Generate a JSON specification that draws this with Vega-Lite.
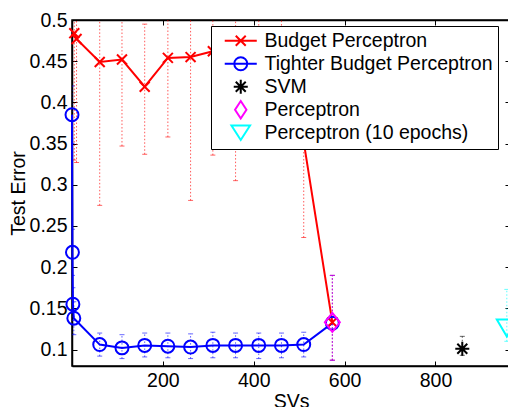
{
  "$schema": "https://vega.github.io/schema/vega-lite/v6.json",
  "width": 438,
  "height": 346,
  "autosize": {"type": "none"},
  "padding": {"left": 72, "top": 20, "right": 0, "bottom": 41},
  "background": "white",
  "config": {
    "font": "Liberation Sans",
    "view": {"stroke": "black", "strokeWidth": 1.5},
    "axis": {
      "grid": false,
      "domainColor": "black",
      "domainWidth": 1.5,
      "tickColor": "black",
      "tickWidth": 1,
      "tickSize": -5,
      "labelFont": "Liberation Sans",
      "labelFontSize": 19.5,
      "labelColor": "black",
      "labelPadding": 10,
      "labelFlush": false,
      "labelOverlap": false,
      "titleFont": "Liberation Sans",
      "titleFontSize": 19.5,
      "titleFontWeight": "normal",
      "titleColor": "black"
    }
  },
  "data": {
    "values": [
      {"series": "Budget Perceptron", "svs": 5, "err": 0.484, "lo": 0.33, "hi": 0.638},
      {"series": "Budget Perceptron", "svs": 10, "err": 0.477, "lo": 0.327, "hi": 0.627},
      {"series": "Budget Perceptron", "svs": 61, "err": 0.449, "lo": 0.275, "hi": 0.623},
      {"series": "Budget Perceptron", "svs": 110, "err": 0.452, "lo": 0.347, "hi": 0.557},
      {"series": "Budget Perceptron", "svs": 160, "err": 0.419, "lo": 0.337, "hi": 0.495},
      {"series": "Budget Perceptron", "svs": 211, "err": 0.454, "lo": 0.358, "hi": 0.55},
      {"series": "Budget Perceptron", "svs": 261, "err": 0.455, "lo": 0.281, "hi": 0.629},
      {"series": "Budget Perceptron", "svs": 310, "err": 0.462, "lo": 0.336, "hi": 0.588},
      {"series": "Budget Perceptron", "svs": 360, "err": 0.47, "lo": 0.305, "hi": 0.635},
      {"series": "Budget Perceptron", "svs": 411, "err": 0.468, "lo": 0.37, "hi": 0.566},
      {"series": "Budget Perceptron", "svs": 461, "err": 0.465, "lo": 0.37, "hi": 0.56},
      {"series": "Budget Perceptron", "svs": 510, "err": 0.352, "lo": 0.236, "hi": 0.468},
      {"series": "Budget Perceptron", "svs": 573, "err": 0.133, "lo": 0.087, "hi": 0.19},
      {"series": "Tighter Budget Perceptron", "svs": 0, "err": 0.385, "lo": 0.35, "hi": 0.42},
      {"series": "Tighter Budget Perceptron", "svs": 1, "err": 0.218, "lo": 0.19, "hi": 0.246},
      {"series": "Tighter Budget Perceptron", "svs": 2, "err": 0.155, "lo": 0.135, "hi": 0.175},
      {"series": "Tighter Budget Perceptron", "svs": 4, "err": 0.138, "lo": 0.118, "hi": 0.158},
      {"series": "Tighter Budget Perceptron", "svs": 61, "err": 0.106, "lo": 0.092, "hi": 0.12},
      {"series": "Tighter Budget Perceptron", "svs": 110, "err": 0.102, "lo": 0.089, "hi": 0.118},
      {"series": "Tighter Budget Perceptron", "svs": 160, "err": 0.105, "lo": 0.091, "hi": 0.12},
      {"series": "Tighter Budget Perceptron", "svs": 211, "err": 0.104, "lo": 0.09, "hi": 0.12},
      {"series": "Tighter Budget Perceptron", "svs": 261, "err": 0.103, "lo": 0.089, "hi": 0.119},
      {"series": "Tighter Budget Perceptron", "svs": 310, "err": 0.105, "lo": 0.09, "hi": 0.121},
      {"series": "Tighter Budget Perceptron", "svs": 360, "err": 0.105, "lo": 0.09, "hi": 0.12},
      {"series": "Tighter Budget Perceptron", "svs": 411, "err": 0.105, "lo": 0.089, "hi": 0.12},
      {"series": "Tighter Budget Perceptron", "svs": 461, "err": 0.105, "lo": 0.09, "hi": 0.12},
      {"series": "Tighter Budget Perceptron", "svs": 510, "err": 0.106, "lo": 0.091, "hi": 0.121},
      {"series": "Tighter Budget Perceptron", "svs": 573, "err": 0.132, "lo": 0.087, "hi": 0.19},
      {"series": "SVM", "svs": 859, "err": 0.101, "lo": 0.093, "hi": 0.116},
      {"series": "Perceptron", "svs": 573, "err": 0.133, "lo": 0.087, "hi": 0.19},
      {"series": "Perceptron (10 epochs)", "svs": 957, "err": 0.126, "lo": 0.11, "hi": 0.173}
    ]
  },
  "resolve": {
    "axis": {"x": "independent", "y": "independent"},
    "scale": {"shape": "independent"},
    "legend": {"color": "independent", "shape": "independent"}
  },
  "layer": [
    {
      "mark": {"type": "rule", "strokeDash": [1.5, 2], "opacity": 0.65, "clip": true},
      "encoding": {
        "x": {
          "field": "svs", "type": "quantitative",
          "scale": {"domain": [0, 964], "nice": false, "zero": false},
          "axis": {"orient": "bottom", "values": [200, 400, 600, 800], "title": "SVs", "titlePadding": 3}
        },
        "y": {
          "field": "lo", "type": "quantitative",
          "scale": {"domain": [0.08, 0.5], "nice": false, "zero": false},
          "axis": {
            "orient": "left",
            "values": [0.1, 0.15, 0.2, 0.25, 0.3, 0.35, 0.4, 0.45, 0.5],
            "format": ".2~f",
            "title": "Test Error",
            "titlePadding": 1
          }
        },
        "y2": {"field": "hi"},
        "color": {
          "field": "series", "type": "nominal",
          "scale": {
            "domain": ["Budget Perceptron", "Tighter Budget Perceptron", "SVM", "Perceptron", "Perceptron (10 epochs)"],
            "range": ["#ff0000", "#0000ff", "#000000", "#ff00ff", "#00ffff"]
          },
          "legend": null
        },
        "strokeWidth": {
          "field": "series", "type": "nominal",
          "scale": {
            "domain": ["Budget Perceptron", "Tighter Budget Perceptron", "SVM", "Perceptron", "Perceptron (10 epochs)"],
            "range": [1, 1, 1.5, 2, 2]
          },
          "legend": null
        }
      }
    },
    {
      "transform": [{"fold": ["lo", "hi"], "as": ["end", "val"]}],
      "mark": {"type": "tick", "orient": "horizontal", "size": 5, "thickness": 1, "opacity": 0.6, "clip": true},
      "encoding": {
        "x": {
          "field": "svs", "type": "quantitative",
          "axis": {"orient": "top", "values": [200, 400, 600, 800], "labels": false, "title": null}
        },
        "y": {
          "field": "val", "type": "quantitative",
          "axis": {"orient": "right", "values": [0.1, 0.15, 0.2, 0.25, 0.3, 0.35, 0.4, 0.45, 0.5], "labels": false, "title": null}
        },
        "color": {"field": "series", "type": "nominal", "legend": null}
      }
    },
    {
      "transform": [{"filter": "datum.series === 'Budget Perceptron' || datum.series === 'Tighter Budget Perceptron'"}],
      "mark": {"type": "line", "strokeWidth": 2},
      "encoding": {
        "x": {"field": "svs", "type": "quantitative", "axis": null},
        "y": {"field": "err", "type": "quantitative", "axis": null},
        "color": {"field": "series", "type": "nominal", "legend": null},
        "detail": {"field": "series"}
      }
    },
    {
      "mark": {"type": "point", "filled": false, "strokeWidth": 2, "size": 144, "opacity": 1},
      "encoding": {
        "x": {"field": "svs", "type": "quantitative", "axis": null},
        "y": {"field": "err", "type": "quantitative", "axis": null},
        "shape": {
          "field": "series", "type": "nominal",
          "scale": {
            "domain": ["Budget Perceptron", "Tighter Budget Perceptron", "SVM", "Perceptron", "Perceptron (10 epochs)"],
            "range": [
              "M-0.83,-0.83L0.83,0.83M-0.83,0.83L0.83,-0.83",
              "M-1.08,0A1.08,1.08,0,1,0,1.08,0A1.08,1.08,0,1,0,-1.08,0",
              "M-1.17,0L1.17,0M0,-1.17L0,1.17M-0.83,-0.83L0.83,0.83M-0.83,0.83L0.83,-0.83",
              "M0,-1.58L1.25,0L0,1.58L-1.25,0Z",
              "M-1.67,-1.42L1.67,-1.42L0,1.42Z"
            ]
          },
          "legend": null
        },
        "color": {"field": "series", "type": "nominal", "legend": null}
      }
    },
    {
      "mark": {"type": "point", "filled": false, "strokeWidth": 2, "size": 144, "opacity": 0},
      "encoding": {
        "x": {"field": "svs", "type": "quantitative", "axis": null},
        "y": {"field": "err", "type": "quantitative", "axis": null},
        "shape": {
          "field": "series", "type": "nominal",
          "scale": {
            "domain": ["Budget Perceptron", "Tighter Budget Perceptron", "SVM", "Perceptron", "Perceptron (10 epochs)"],
            "range": [
              "M-2.67,0L2.67,0M-0.83,-0.83L0.83,0.83M-0.83,0.83L0.83,-0.83",
              "M-2.67,0L2.67,0M-1.08,0A1.08,1.08,0,1,0,1.08,0A1.08,1.08,0,1,0,-1.08,0",
              "M-1.17,0L1.17,0M0,-1.17L0,1.17M-0.83,-0.83L0.83,0.83M-0.83,0.83L0.83,-0.83",
              "M0,-1.45L0.95,0L0,1.45L-0.95,0Z",
              "M-1.55,-1.2L1.55,-1.2L0,1.2Z"
            ]
          }
        },
        "color": {
          "field": "series", "type": "nominal",
          "legend": {
            "title": null,
            "orient": "none",
            "legendX": 139,
            "legendY": 6,
            "fillColor": "white",
            "strokeColor": "black",
            "padding": 5,
            "rowPadding": -3.5,
            "gridAlign": "all",
            "labelFont": "Liberation Sans",
            "labelFontSize": 19.5,
            "labelColor": "black",
            "labelLimit": 400,
            "symbolSize": 144,
            "symbolStrokeWidth": 2,
            "symbolOpacity": 1,
            "symbolOffset": 15,
            "labelOffset": 14,
            "encode": {"legend": {"strokeWidth": {"value": 2}}}
          }
        }
      }
    }
  ]
}
